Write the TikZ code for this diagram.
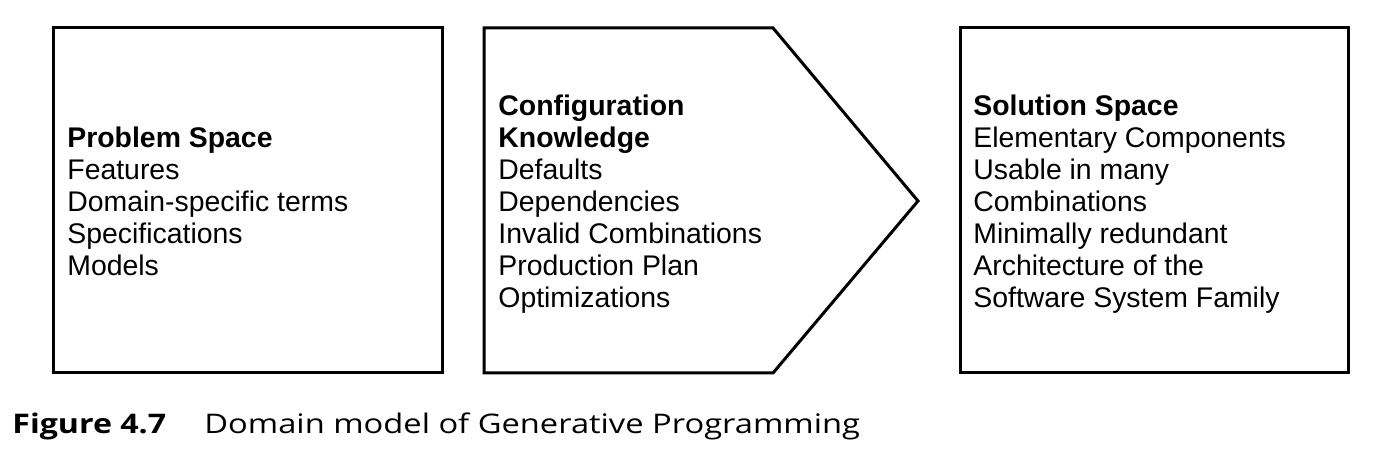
\documentclass[tikz,border=0pt]{standalone}
\usepackage{fontspec}
\setmainfont{Liberation Sans}
\newfontfamily\captionfont{Open Sans}
\usetikzlibrary{math}
\usetikzlibrary{calc}

\tikzset{
  panel/.style={line width=1.5pt, line join=miter},
  itemtext/.style={align=left, inner sep=0pt, anchor=base west,
    font=\fontsize{14.2}{16}\selectfont},
  captiontext/.style={anchor=base west, inner sep=0pt,
    font=\captionfont\fontsize{13.5}{14}\selectfont},
}
% caption face is wider than Open Sans
\newcommand{\widecap}[2]{\scalebox{#1}[1]{#2}}

\begin{document}
\begin{tikzpicture}[x=0.5pt,y=-0.5pt]

  \tikzmath{
    \uppery = 28;  % upper edge of the three panels
    \lowery = 373; % lower edge of the three panels
    \tipx   = 918; % point of the middle arrow
    \tipy   = 201;
  }

  % page size
  \useasboundingbox (0,0) rectangle (1380,458);

  % Problem space box
  \coordinate (P1) at (53,\uppery);
  \coordinate (P2) at (442,\lowery);
  \draw[panel] (P1) rectangle (P2);

  % Configuration knowledge arrow
  \coordinate (K1) at (484,\uppery);
  \coordinate (K2) at (773,\uppery);
  \coordinate (K3) at (\tipx,\tipy);
  \coordinate (K4) at (773,\lowery);
  \coordinate (K5) at (484,\lowery);
  \draw[panel] (K1) -- (K2) -- (K3) -- (K4) -- (K5) -- cycle;

  % Solution space box
  \coordinate (S1) at (960,\uppery);
  \coordinate (S2) at (1348,\lowery);
  \draw[panel] (S1) rectangle (S2);

  % texts (placed by the baseline of their last line)
  \node[itemtext] (problem) at (67,276)
    {\textbf{Problem Space}\\Features\\Domain-specific terms\\Specifications\\Models};

  \node[itemtext] (config) at (498,308)
    {\textbf{Configuration}\\\textbf{Knowledge}\\Defaults\\Dependencies\\Invalid Combinations\\Production Plan\\Optimizations};

  \node[itemtext] (solution) at (973,308)
    {\textbf{Solution Space}\\Elementary Components\\Usable in many\\Combinations\\Minimally redundant\\Architecture of the\\Software System Family};

  % caption
  \node[captiontext] (fig) at (12,434) {\widecap{1.19}{\textbf{Figure 4.7}}};
  \node[captiontext] (captext) at (204,434) {\widecap{1.21}{Domain model of Generative Programming}};

\end{tikzpicture}
\end{document}
